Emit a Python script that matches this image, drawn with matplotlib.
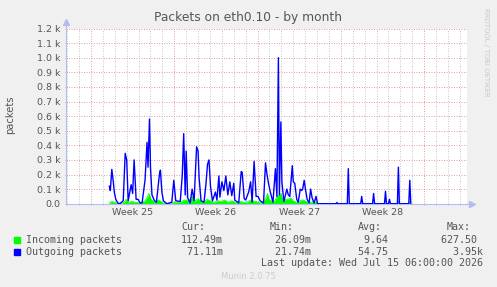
import numpy as np
import matplotlib
matplotlib.use("Agg")
import matplotlib.pyplot as plt
from matplotlib.ticker import MultipleLocator, FuncFormatter

# time axis in hours since Mon 2026-06-15 00:00 (start of week 25)
out_hours = [37, 39, 42, 45, 47, 50, 54, 58, 65, 69, 72, 75, 81, 84, 87, 91, 95, 99, 103,
             109, 113, 115, 118, 120, 123, 128, 132, 138, 140, 143, 146, 153, 163, 167, 171,
             180, 184, 187, 190, 192, 195, 200, 204, 208, 213, 216, 218, 222, 228, 232, 235,
             238, 241, 245, 251, 254, 258, 260, 264, 268, 272, 276, 280, 284, 288, 290, 294,
             298, 303, 305, 309, 312, 318, 322, 325, 329, 333, 337, 341, 348, 352, 355, 358,
             361, 364, 367, 372, 375, 378, 380, 383, 385, 389, 395, 398, 401, 406, 408, 411,
             415, 418, 422, 425, 427, 430, 433, 436, 440, 443, 446, 450, 454, 457,
             494, 496, 498, 517, 519, 521, 544, 546, 548, 568, 570, 572, 592, 594, 596,
             600, 602, 604, 618, 620, 622, 641, 643, 645]
out_pkts = [120, 90, 235, 150, 80, 30, 5, 0, 20, 345, 300, 20, 130, 70, 300, 30, 30, 5, 5,
            160, 420, 250, 580, 250, 60, 20, 10, 200, 230, 80, 20, 0, 10, 160, 20,
            15, 190, 480, 60, 360, 40, 5, 100, 20, 390, 360, 180, 20, 10, 140, 270,
            300, 120, 20, 80, 25, 190, 45, 150, 90, 190, 60, 150, 55, 140, 25, 15,
            5, 220, 215, 35, 25, 80, 150, 10, 290, 50, 50, 20, 5, 280, 200, 140,
            90, 50, 10, 240, 50, 1000, 60, 560, 150, 15, 100, 60, 50, 260, 150, 140,
            30, 10, 100, 90, 100, 160, 90, 30, 5, 100, 40, 5, 50, 0,
            0, 8, 0, 0, 240, 0, 0, 50, 0, 0, 70, 0, 0, 85, 0,
            0, 30, 0, 0, 250, 0, 0, 160, 0]

in_hours = [37, 42, 50, 58, 67, 71, 75, 83, 89, 99, 109, 113, 117, 121, 127, 135, 139, 145,
            153, 163, 169, 180, 188, 194, 200, 204, 208, 216, 220, 228, 234, 240, 248, 256,
            262, 270, 276, 284, 292, 301, 307, 315, 321, 327, 333, 341, 347, 353, 356, 359,
            365, 371, 375, 379, 383, 387, 393, 399, 403, 407, 414, 422, 428, 434, 440, 448,
            454, 458, 618, 620, 622, 641, 643, 645]
in_pkts = [5, 15, 5, 0, 10, 30, 10, 15, 10, 5, 20, 40, 70, 30, 10, 25, 20, 5,
           0, 5, 10, 10, 25, 20, 30, 50, 15, 35, 20, 10, 30, 20, 10, 20,
           15, 25, 10, 20, 5, 15, 10, 10, 25, 20, 15, 5, 10, 40, 70, 30,
           15, 20, 50, 60, 70, 20, 30, 30, 40, 20, 10, 20, 25, 15, 5, 15,
           10, 0, 0, 15, 0, 0, 15, 0]

week_starts = [0, 168, 336, 504, 672]
week_labels = ["Week 25", "Week 26", "Week 27", "Week 28"]

legend_names = ["Incoming packets", "Outgoing packets"]
legend_colors = ["#00FF00", "#0000FF"]
cur_vals = ["112.49m", " 71.11m"]
min_vals = [" 26.09m", " 21.74m"]
avg_vals = ["  9.64 ", " 54.75 "]
max_vals = ["627.50 ", "  3.95k"]

W, H = 497, 287
txt = "#555555"
axis_col = "#B4BCF0"
major_col = "#E8A0A0"
minor_col = "#C8C8C8"

fig = plt.figure(figsize=(W / 100, H / 100), dpi=100, facecolor="#F0F0F0")
x0, x1, ytop, ybot = 66, 466.7, 28.5, 203.7
ax = fig.add_axes([x0 / W, 1 - ybot / H, (x1 - x0) / W, (ybot - ytop) / H])
ax.set_facecolor("white")

ax.fill_between(in_hours, in_pkts, 0, color=legend_colors[0], lw=0, zorder=2)
ax.plot(in_hours, in_pkts, color=legend_colors[0], lw=0.6, zorder=2)
ax.plot(out_hours, out_pkts, color=legend_colors[1], lw=1.0, zorder=3)

ax.set_xlim(-50.4, 757.8)
ax.set_ylim(0, 1200)

ax.set_xticks(week_starts)
ax.xaxis.set_minor_locator(MultipleLocator(24))
ax.xaxis.set_major_formatter(FuncFormatter(lambda v, p: ""))
ax.yaxis.set_major_locator(MultipleLocator(100))
ax.yaxis.set_major_formatter(FuncFormatter(lambda v, p: "0.0" if v == 0 else f"{v / 1000:.1f} k"))

ax.grid(which="major", color=major_col, lw=0.72, ls=(0, (1, 1.5)))
ax.grid(which="minor", axis="x", color=minor_col, lw=0.72, ls=(0, (1, 1.5)))
ax.set_axisbelow(True)

ax.tick_params(which="major", length=2, width=0.7, color=major_col, labelsize=6.8,
               labelcolor=txt, pad=3, direction="inout")
ax.tick_params(which="minor", length=1.5, width=0.7, color=minor_col, direction="inout")

for s in ["top", "right"]:
    ax.spines[s].set_visible(False)
for s in ["left", "bottom"]:
    ax.spines[s].set_color(axis_col)
    ax.spines[s].set_linewidth(0.8)

# axis arrows
ax.plot([1.0, 1.01], [0, 0], color=axis_col, lw=0.8, transform=ax.transAxes, clip_on=False)
ax.plot([1.012], [0], marker=">", ms=4, color=axis_col, transform=ax.transAxes, clip_on=False)
ax.plot([0, 0], [1.0, 1.03], color=axis_col, lw=0.8, transform=ax.transAxes, clip_on=False)
ax.plot([0], [1.035], marker="^", ms=4, color=axis_col, transform=ax.transAxes, clip_on=False)

xt = ax.get_xaxis_transform()
for i, lab in enumerate(week_labels):
    mid = (week_starts[i] + week_starts[i + 1]) / 2
    ax.text(mid, -9 / (ybot - ytop), lab, transform=xt, ha="center", va="center",
            fontsize=6.8, color=txt)


def ftext(x, y, s, **kw):
    fig.text(x / W, 1 - y / H, s, **kw)


ftext(248.5, 18, "Packets on eth0.10 - by month", ha="center", va="center", fontsize=8.8, color=txt)
ftext(10, 115, "packets", ha="center", va="center", rotation=90, fontsize=7.2, color=txt)
ftext(486, 52, "RRDTOOL / TOBI OETIKER", ha="center", va="center", rotation=270,
      fontsize=5, color="#C8C8C8")

mono = dict(family="DejaVu Sans Mono", fontsize=7.2, color=txt, va="center")
for hdr, hx in zip(["Cur:", "Min:", "Avg:", "Max:"], [181, 269.3, 358, 447]):
    ftext(hx, 227.3, hdr, ha="left", **mono)

rows_y = [239.7, 251.7]
for i in range(2):
    y = rows_y[i]
    fig.patches.append(plt.Rectangle((14 / W, 1 - (y + 2.8) / H), 6 / W, 5.6 / H,
                                     transform=fig.transFigure, color=legend_colors[i]))
    ftext(26, y, legend_names[i], ha="left", **mono)
    ftext(222.7, y, cur_vals[i], ha="right", **mono)
    ftext(311, y, min_vals[i], ha="right", **mono)
    ftext(393.7, y, avg_vals[i], ha="right", **mono)
    ftext(482.7, y, max_vals[i], ha="right", **mono)

ftext(482.7, 263.3, "Last update: Wed Jul 15 06:00:00 2026", ha="right", **mono)
ftext(248, 276.3, "Munin 2.0.75", ha="center", va="center", fontsize=6, color="#CCCCCC")

fig.savefig("out.png", dpi=100, facecolor=fig.get_facecolor())
